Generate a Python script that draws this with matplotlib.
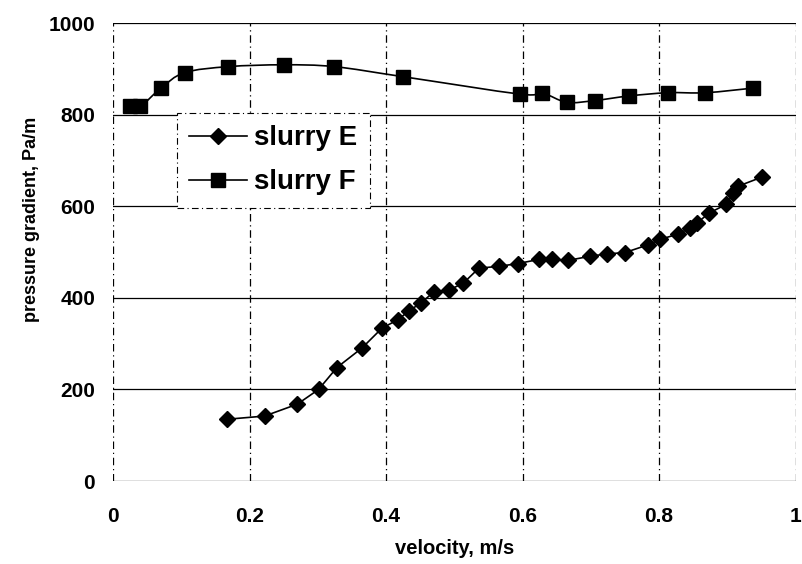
import matplotlib
matplotlib.use("Agg")
import matplotlib.pyplot as plt
from matplotlib.path import Path
from matplotlib.patches import PathPatch
from matplotlib.lines import Line2D
import numpy as np

plt.rcParams['font.family'] = ['Liberation Sans', 'DejaVu Sans']
plt.rcParams['font.weight'] = 'bold'

# slurry E (diamonds)
vel_E = [0.167, 0.222, 0.270, 0.301, 0.328, 0.365, 0.394, 0.417, 0.434, 0.451,
         0.470, 0.492, 0.513, 0.536, 0.566, 0.593, 0.624, 0.643, 0.667, 0.699,
         0.723, 0.750, 0.784, 0.802, 0.827, 0.846, 0.856, 0.873, 0.898, 0.909,
         0.916, 0.951]
dp_E = [135, 142, 168, 200, 248, 291, 334, 352, 372, 389,
        413, 417, 432, 465, 469, 475, 484, 484, 482, 491,
        496, 499, 516, 528, 539, 553, 564, 585, 604, 628,
        644, 664]

# slurry F (squares)
vel_F = [0.025, 0.040, 0.070, 0.105, 0.169, 0.250, 0.324, 0.425, 0.596, 0.629,
         0.665, 0.706, 0.756, 0.813, 0.868, 0.937]
dp_F = [818, 818, 858, 892, 905, 909, 905, 883, 845, 847,
        827, 831, 841, 848, 848, 858]

labels = ['slurry E', 'slurry F']
x_ticks = [0, 0.2, 0.4, 0.6, 0.8, 1]
x_ticklabels = ['0', '0.2', '0.4', '0.6', '0.8', '1']
y_ticks = [0, 200, 400, 600, 800, 1000]

fig = plt.figure(figsize=(8.02, 5.64), dpi=100)
ax = fig.add_axes([0.141, 0.147, 0.851, 0.812])
ax.set_xlim(0, 1)
ax.set_ylim(0, 1000)

# grid
for yv in y_ticks:
    ax.axhline(yv, color='black', lw=0.9, zorder=1)
for xv in x_ticks:
    ax.axvline(xv, color='black', lw=0.9, ls=(0, (6, 3, 1, 3)), zorder=1)
for s in ax.spines.values():
    s.set_visible(False)

# slurry E: straight segments
ax.plot(vel_E, dp_E, color='black', lw=1.2, marker='D', ms=7.8,
        mfc='black', mec='black', zorder=3)

# slurry F: Excel-style smoothed line through the points
P = np.column_stack([vel_F, dp_F]).astype(float)
n = len(P)
verts = [P[0]]
codes = [Path.MOVETO]
for i in range(n - 1):
    p0 = P[i - 1] if i > 0 else P[i]
    p1 = P[i]
    p2 = P[i + 1]
    p3 = P[i + 2] if i + 2 < n else P[i + 1]
    c1 = p1 + (p2 - p0) / 6.0
    c2 = p2 - (p3 - p1) / 6.0
    verts += [c1, c2, p2]
    codes += [Path.CURVE4] * 3
ax.add_patch(PathPatch(Path(verts, codes), fill=False, ec='black', lw=1.2, zorder=3))
ax.plot(vel_F, dp_F, ls='none', marker='s', ms=10.5, mfc='black', mec='black', zorder=4)

ax.set_xticks(x_ticks)
ax.set_xticklabels(x_ticklabels)
ax.set_yticks(y_ticks)
ax.tick_params(axis='both', length=0, labelsize=15)
ax.tick_params(axis='x', pad=19)
ax.tick_params(axis='y', pad=13)
ax.set_xlabel('velocity, m/s', fontsize=14.5, fontweight='bold', labelpad=9)
ax.set_ylabel('pressure gradient, Pa/m', fontsize=13, fontweight='bold')
ax.yaxis.set_label_coords(-0.107, 0.572)

handles = [
    Line2D([], [], color='black', lw=1.2, marker='D', ms=7.8, mfc='black'),
    Line2D([], [], color='black', lw=1.2, marker='s', ms=10.5, mfc='black'),
]
leg = ax.legend(handles, labels, loc='upper left', bbox_to_anchor=(0.093, 0.804),
                fontsize=20, frameon=True, fancybox=False, handlelength=2.1,
                handletextpad=0.25, borderpad=0.45, labelspacing=0.65,
                borderaxespad=0)
fr = leg.get_frame()
fr.set_edgecolor('black')
fr.set_linewidth(0.8)
fr.set_linestyle((0, (6, 3, 1, 3)))
fr.set_facecolor('white')
fr.set_alpha(1)
leg.set_zorder(5)

fig.savefig('out.png', dpi=100)
